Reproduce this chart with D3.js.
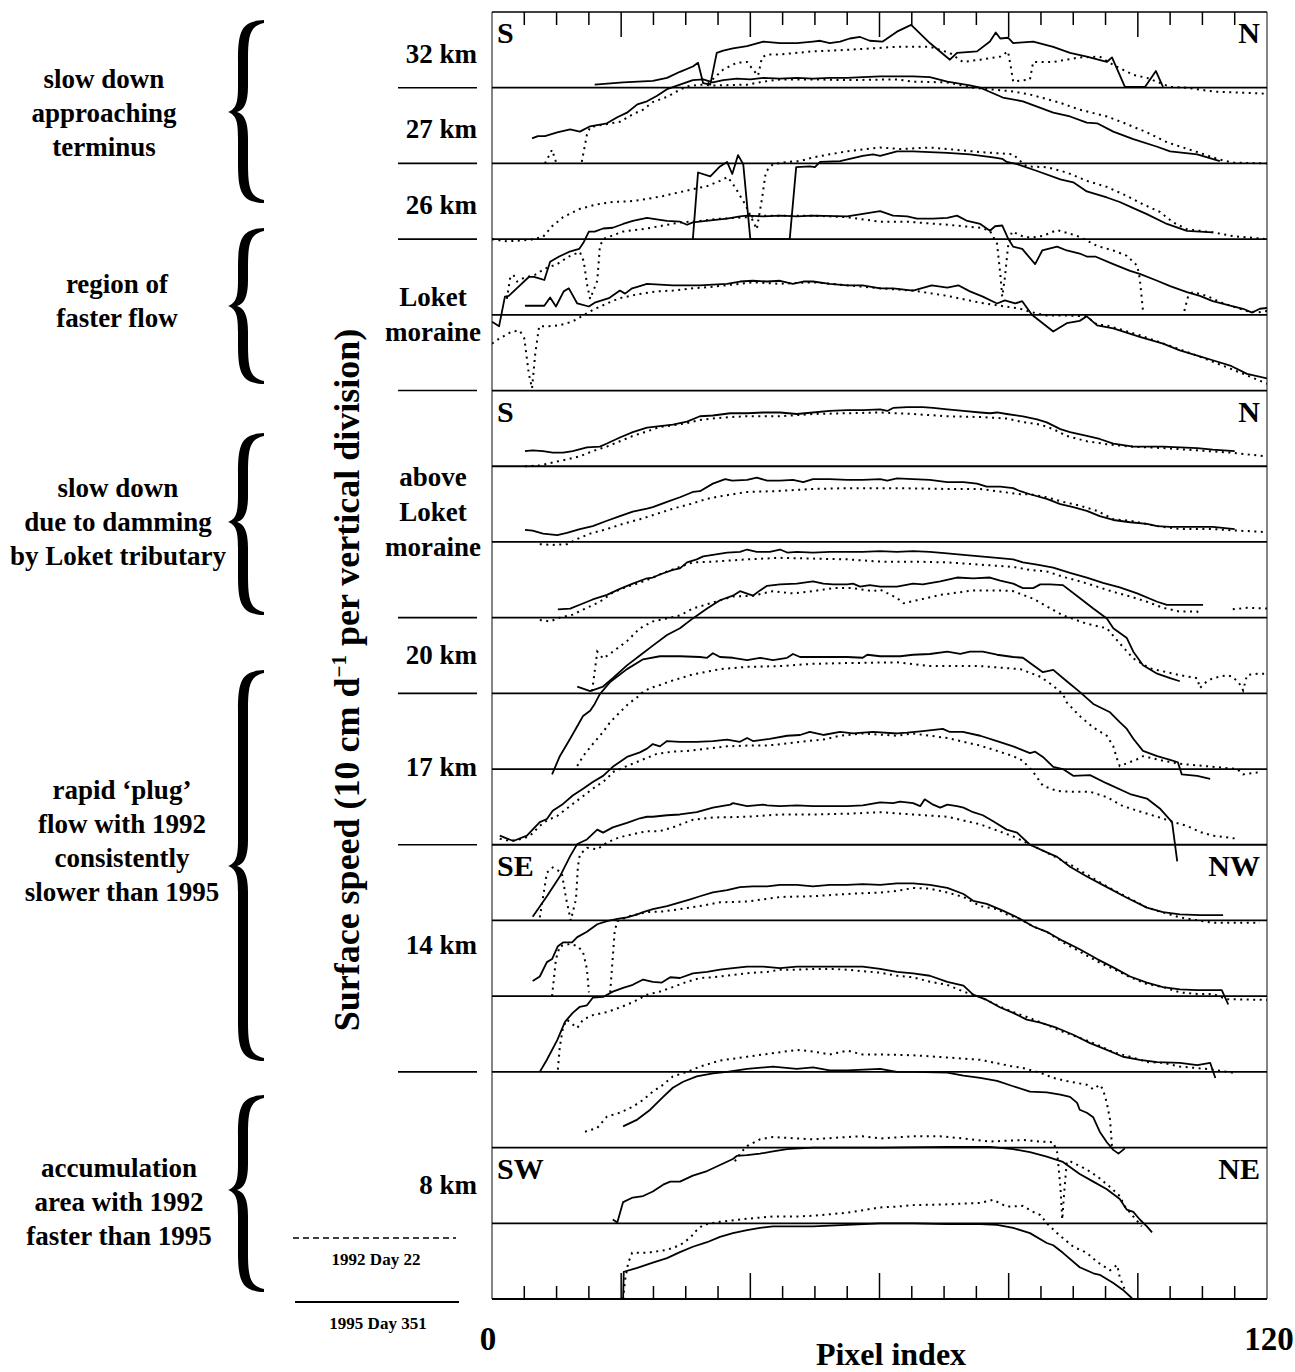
<!DOCTYPE html>
<html><head><meta charset="utf-8">
<script src="https://cdn.jsdelivr.net/npm/d3@7"></script>
<style>
body{margin:0;background:#fff}
text{font-family:"Liberation Serif","Times New Roman",serif;font-weight:bold;fill:#000}
</style>
</head><body>
<svg id="c" width="1295" height="1372"></svg>
<script>
// ---------- DATA : [pixel index, speed in vertical divisions (10 cm/d)] ----------
// 1995 Day 351 = solid, 1992 Day 22 = dotted
const s32=[[15.9,0.04],[20.3,0.07],[24.9,0.09],[27.1,0.13],[29.1,0.21],[31.1,0.28],[31.9,0.33],[32.7,0.06],[33.8,0.04],[34.8,0.46],[35.8,0.49],[37.3,0.52],[39.5,0.55],[42.0,0.61],[44.6,0.59],[47.2,0.59],[49.7,0.61],[50.8,0.62],[52.3,0.59],[53.9,0.61],[55.4,0.65],[57.0,0.67],[58.5,0.62],[60.5,0.61],[62.7,0.74],[64.9,0.83],[67.8,0.59],[70.9,0.37],[72.0,0.46],[75.1,0.48],[77.1,0.61],[78.0,0.73],[78.7,0.65],[79.9,0.66],[80.7,0.59],[83.8,0.61],[86.9,0.54],[89.5,0.46],[92.1,0.41],[95.2,0.34],[96.0,0.40],[98.0,0.01],[101.1,0.01],[102.8,0.22],[103.9,0.01]];
const d32=[[33.4,0.05],[35.8,0.24],[37.9,0.33],[39.5,0.34],[40.4,0.24],[41.2,0.16],[41.8,0.40],[42.6,0.44],[44.6,0.44],[49.7,0.48],[55.0,0.50],[62.7,0.54],[67.8,0.54],[70.9,0.46],[72.9,0.34],[75.6,0.37],[78.7,0.41],[79.9,0.48],[80.4,0.24],[80.7,0.08],[83.3,0.11],[83.8,0.34],[86.9,0.34],[91.0,0.40],[94.1,0.41],[96.2,0.30],[99.3,0.17],[101.4,0.13],[105.0,0.01],[107.6,0.0],[111.6,-0.05],[120,-0.08]];
const s27=[[6.2,0.33],[7.1,0.36],[8.2,0.36],[10.1,0.41],[12.1,0.45],[13.6,0.42],[15.2,0.49],[17.8,0.53],[19.4,0.61],[20.9,0.67],[22.5,0.78],[24.0,0.82],[25.5,0.89],[27.1,0.98],[29.1,1.04],[31.1,1.10],[32.7,1.11],[34.2,1.07],[35.8,1.10],[37.9,1.12],[40.0,1.11],[42.0,1.13],[44.6,1.12],[47.2,1.13],[49.7,1.12],[52.3,1.13],[55.0,1.13],[57.4,1.14],[60.1,1.15],[62.7,1.15],[65.2,1.15],[67.8,1.14],[70.5,1.08],[74.0,1.03],[75.6,1.00],[79.1,0.87],[82.2,0.82],[84.4,0.75],[86.9,0.67],[89.5,0.62],[92.1,0.54],[93.7,0.53],[96.2,0.42],[99.3,0.32],[103.0,0.22],[105.0,0.16],[109.2,0.12],[112.7,0.03]];
const d27=[[8.2,0.0],[9.3,0.18],[9.9,0.02],[10.2,null],[13.9,0.02],[14.7,0.38],[15.2,0.48],[17.8,0.52],[19.8,0.55],[21.8,0.65],[23.4,0.71],[24.9,0.81],[27.1,0.88],[28.6,0.95],[30.2,1.02],[32.2,1.04],[34.2,1.03],[39.5,1.04],[42.0,1.08],[44.6,1.11],[49.7,1.11],[55.0,1.10],[62.7,1.11],[65.2,1.08],[70.5,1.07],[74.5,1.00],[77.1,0.98],[80.7,0.95],[83.3,0.91],[88.0,0.80],[91.0,0.71],[95.2,0.62],[97.7,0.54],[101.4,0.41],[104.5,0.28],[109.2,0.15],[112.7,0.05],[114.7,0.01],[120,0.0]];
const s26=[[31.1,0.0],[31.9,0.88],[33.8,0.83],[35.3,0.96],[36.4,1.02],[37.2,0.86],[38.1,1.11],[38.9,0.99],[40.0,0.0],[46.1,0.0],[47.1,0.95],[49.2,0.96],[50.0,0.95],[50.8,1.02],[53.9,1.03],[57.4,1.10],[59.0,1.12],[60.1,1.10],[62.7,1.16],[65.2,1.16],[67.8,1.15],[70.5,1.14],[74.0,1.12],[77.6,1.08],[79.0,1.06],[79.7,1.02],[81.3,0.99],[84.4,0.90],[88.0,0.79],[90.0,0.75],[92.1,0.63],[95.2,0.55],[97.2,0.49],[99.3,0.41],[101.4,0.33],[104.5,0.20],[107.6,0.11],[111.6,0.09]];
const d26=[[0,0.0],[2.3,-0.03],[5.9,-0.01],[7.9,0.03],[9.3,0.17],[11.0,0.29],[13.6,0.40],[16.3,0.46],[18.7,0.49],[21.4,0.50],[24.0,0.53],[26.5,0.57],[29.1,0.62],[31.1,0.66],[33.3,0.70],[35.3,0.77],[36.5,0.82],[37.6,0.69],[39.2,0.46],[41.0,0.13],[41.8,0.53],[42.4,0.89],[43.5,0.99],[45.7,1.02],[47.7,1.03],[49.7,1.08],[52.3,1.12],[55.0,1.16],[60.1,1.21],[63.2,1.19],[67.8,1.21],[70.5,1.19],[75.6,1.15],[80.7,1.12],[82.2,1.00],[82.8,0.96],[85.9,0.95],[89.0,0.88],[92.1,0.77],[95.2,0.69],[98.3,0.57],[100.8,0.46],[103.4,0.36],[105.5,0.22],[107.6,0.13],[111.6,0.09],[114.7,0.04],[120,0.0]];
const sLoketA=[[0,-0.09],[1.1,-0.15],[2.0,0.24],[2.6,0.25],[4.2,0.38],[5.7,0.50],[6.5,0.50],[7.3,0.48],[8.1,0.46],[9.0,0.70],[10.4,0.77],[11.9,0.83],[13.5,0.87],[14.2,0.96],[15.0,1.10],[15.9,1.10],[17.2,1.14],[18.7,1.15],[20.3,1.20],[21.8,1.24],[24.0,1.28],[25.5,1.26],[27.1,1.24],[29.1,1.23],[30.2,1.19],[31.1,1.22],[34.2,1.25],[36.4,1.27],[38.4,1.30],[39.5,1.31],[42.0,1.30],[44.6,1.31],[47.2,1.30],[49.7,1.31],[55.0,1.30],[60.1,1.37],[62.1,1.31],[64.3,1.30],[65.8,1.27],[68.3,1.27],[70.5,1.28],[72.0,1.31],[73.6,1.24],[75.6,1.20],[77.1,1.11],[77.9,1.17],[79.0,1.18],[79.9,1.01],[80.7,0.90],[82.1,0.87],[84.1,0.67],[85.2,0.85],[87.5,0.90],[89.0,0.85],[91.0,0.81],[92.1,0.77],[93.4,0.77],[96.2,0.67],[98.8,0.58],[100.3,0.54],[103.0,0.45],[105.0,0.38],[107.6,0.30],[109.6,0.25],[111.6,0.18],[114.3,0.12],[116.3,0.08],[117.7,0.03],[118.9,0.08],[120,0.09]];
const dLoketA=[[2.3,0.21],[2.8,0.48],[3.3,0.53],[3.9,0.44],[5.0,0.49],[6.7,0.53],[8.2,0.61],[10.1,0.67],[11.9,0.77],[13.6,0.83],[14.2,0.71],[14.7,0.41],[15.2,0.21],[16.3,0.45],[16.7,0.90],[17.2,1.00],[20.3,1.10],[24.0,1.14],[26.5,1.18],[29.1,1.22],[32.2,1.24],[35.3,1.27],[39.5,1.29],[42.0,1.31],[44.6,1.31],[49.7,1.31],[55.0,1.29],[60.1,1.23],[64.3,1.23],[70.5,1.19],[75.6,1.15],[77.1,1.11],[78.2,0.94],[78.7,0.54],[79.0,0.24],[79.4,0.48],[79.9,0.90],[80.5,1.10],[82.1,1.04],[83.3,1.02],[85.2,1.04],[87.5,1.12],[89.5,1.07],[91.0,1.03],[93.7,0.91],[96.2,0.85],[98.3,0.78],[99.9,0.65],[100.3,0.48],[100.8,0.05],[101.2,null],[107.2,0.05],[107.8,0.25],[108.5,0.30],[110.7,0.25],[112.7,0.17],[114.7,0.11],[116.9,0.05],[118.5,0.03],[120,0.05]];
const sLoketB=[[5.1,1.12],[8.1,1.12],[9.0,1.23],[9.9,1.11],[11.1,1.31],[11.9,1.35],[13.2,1.15],[15.0,1.11],[15.9,1.16],[18.1,1.22],[19.8,1.32],[20.6,1.28],[21.7,1.35],[22.5,1.37],[24.0,1.41],[26.0,1.40],[28.0,1.39],[30.2,1.39],[32.2,1.39],[34.2,1.40],[36.4,1.41],[38.4,1.44],[40.4,1.45],[42.6,1.44],[44.6,1.45],[46.6,1.41],[48.2,1.44],[49.7,1.44],[52.3,1.41],[55.0,1.39],[57.4,1.39],[60.1,1.35],[62.1,1.35],[65.2,1.32],[68.1,1.39],[70.5,1.36],[72.2,1.39],[74.0,1.31],[76.0,1.24],[78.2,1.15],[79.4,1.19],[81.0,1.15],[82.1,1.18],[83.6,1.00],[86.9,0.78],[89.0,0.89],[91.0,0.92],[92.1,0.98],[93.7,0.86],[96.2,0.82],[100.3,0.71],[103.9,0.62],[106.5,0.53],[109.6,0.45],[111.6,0.40],[114.3,0.33],[116.9,0.22],[120,0.16]];
const dLoketB=[[0,0.62],[1.2,0.69],[3.1,0.78],[4.3,0.79],[5.0,0.69],[5.3,0.49],[5.7,0.22],[6.2,0.03],[6.7,0.49],[7.3,0.85],[8.8,0.85],[10.4,0.86],[12.4,0.91],[13.9,0.98],[15.5,1.06],[17.8,1.15],[19.8,1.22],[22.5,1.27],[25.5,1.31],[28.0,1.32],[31.1,1.35],[34.2,1.37],[37.3,1.40],[40.4,1.43],[44.6,1.41],[49.7,1.43],[55.0,1.39],[60.1,1.35],[65.2,1.32],[70.5,1.25],[75.6,1.16],[78.7,1.12],[81.8,1.08],[83.3,1.04],[85.9,0.99],[89.0,0.99],[92.1,0.98],[93.7,0.87],[95.2,0.86],[97.2,0.81],[100.3,0.73],[105.0,0.59],[109.2,0.46],[114.3,0.29],[116.9,0.20],[120,0.09]];
const sAbove1=[[5.1,0.20],[6.3,0.21],[7.9,0.20],[9.4,0.18],[11.0,0.18],[12.5,0.20],[14.7,0.25],[16.7,0.26],[17.8,0.30],[19.8,0.38],[21.8,0.45],[24.0,0.51],[26.0,0.53],[28.0,0.55],[30.2,0.59],[32.2,0.66],[34.2,0.67],[36.9,0.70],[39.5,0.70],[42.0,0.71],[44.6,0.71],[47.2,0.69],[49.7,0.71],[52.3,0.73],[55.0,0.74],[57.4,0.74],[60.1,0.75],[61.2,0.73],[62.1,0.77],[64.3,0.78],[66.7,0.78],[68.3,0.77],[70.5,0.75],[73.0,0.73],[75.6,0.71],[77.1,0.70],[78.2,0.71],[79.7,0.69],[82.2,0.66],[84.4,0.62],[85.9,0.58],[88.0,0.49],[89.5,0.45],[92.1,0.40],[94.1,0.36],[96.2,0.30],[99.3,0.26],[101.4,0.26],[103.9,0.26],[106.5,0.25],[109.2,0.24],[111.6,0.22],[115.0,0.20]];
const dAbove1=[[5.1,0.0],[7.4,0.01],[9.4,0.05],[11.6,0.09],[13.6,0.13],[15.6,0.20],[17.8,0.26],[19.8,0.33],[21.8,0.40],[24.0,0.46],[26.0,0.52],[28.0,0.54],[30.2,0.57],[32.2,0.61],[34.2,0.63],[36.9,0.65],[39.5,0.66],[44.6,0.66],[49.7,0.69],[55.0,0.70],[60.1,0.71],[65.2,0.69],[70.5,0.66],[75.6,0.65],[79.7,0.63],[81.8,0.59],[84.9,0.55],[86.9,0.49],[89.0,0.40],[92.1,0.33],[95.2,0.29],[98.8,0.26],[103.9,0.24],[109.2,0.21],[114.3,0.18],[120,0.13]];
const sAbove2=[[5.1,0.16],[6.3,0.15],[7.9,0.11],[10.1,0.09],[11.6,0.12],[13.6,0.17],[15.6,0.21],[17.8,0.28],[19.8,0.34],[21.8,0.40],[24.0,0.44],[24.9,0.46],[27.1,0.53],[29.1,0.59],[31.1,0.66],[32.2,0.67],[34.2,0.77],[36.1,0.83],[37.2,0.81],[39.5,0.82],[41.0,0.85],[42.6,0.81],[44.6,0.81],[46.6,0.82],[48.2,0.79],[49.7,0.83],[52.3,0.83],[55.0,0.82],[57.4,0.82],[60.1,0.83],[61.2,0.81],[62.7,0.84],[65.2,0.83],[67.8,0.82],[70.5,0.79],[73.0,0.79],[75.1,0.77],[76.6,0.73],[78.7,0.73],[80.7,0.71],[81.8,0.67],[83.3,0.63],[85.9,0.57],[88.0,0.50],[90.0,0.46],[92.1,0.41],[94.1,0.34],[96.2,0.29],[98.8,0.26],[101.4,0.24],[103.0,0.21],[105.0,0.20],[109.2,0.20],[111.6,0.20],[115.0,0.17]];
const dAbove2=[[7.4,-0.03],[9.4,-0.04],[11.6,-0.03],[13.2,0.04],[15.2,0.11],[17.8,0.17],[20.3,0.24],[22.9,0.30],[25.5,0.37],[28.0,0.44],[30.7,0.50],[33.3,0.57],[35.8,0.61],[39.5,0.66],[43.5,0.67],[49.7,0.70],[55.0,0.71],[62.7,0.71],[70.5,0.70],[75.6,0.70],[78.2,0.67],[81.8,0.63],[83.3,0.63],[85.9,0.59],[88.4,0.53],[91.0,0.48],[93.7,0.41],[96.2,0.30],[98.8,0.28],[103.0,0.21],[106.5,0.17],[111.6,0.17],[115.4,0.15],[120,0.13]];
const sAbove3=[[10.2,0.11],[12.1,0.12],[13.6,0.17],[15.6,0.24],[17.8,0.30],[19.8,0.38],[21.8,0.45],[24.0,0.52],[24.9,0.53],[26.0,0.57],[28.0,0.63],[29.1,0.65],[30.2,0.73],[31.7,0.77],[32.7,0.81],[34.2,0.83],[36.4,0.86],[38.4,0.87],[39.5,0.90],[41.0,0.87],[43.0,0.87],[44.6,0.90],[45.7,0.86],[47.2,0.87],[49.7,0.86],[52.3,0.87],[55.0,0.87],[57.4,0.87],[60.1,0.88],[62.7,0.87],[65.2,0.88],[67.8,0.87],[70.5,0.85],[73.0,0.83],[75.6,0.81],[78.2,0.79],[80.7,0.77],[82.2,0.73],[84.4,0.70],[86.9,0.66],[89.5,0.59],[92.1,0.53],[94.6,0.46],[97.2,0.40],[99.9,0.32],[103.0,0.21],[104.5,0.17],[106.5,0.17],[110.1,0.17]];
const dAbove3=[[7.4,-0.03],[9.0,-0.05],[10.5,0.0],[12.5,0.04],[14.7,0.13],[16.7,0.21],[18.7,0.33],[20.9,0.41],[22.9,0.46],[24.9,0.53],[27.1,0.61],[29.1,0.67],[31.1,0.73],[34.2,0.74],[39.5,0.77],[44.6,0.79],[49.7,0.78],[55.0,0.77],[60.1,0.74],[65.2,0.74],[70.5,0.73],[75.6,0.70],[80.7,0.67],[83.3,0.63],[85.9,0.61],[88.4,0.54],[91.0,0.48],[93.7,0.41],[96.2,0.34],[98.8,0.28],[101.4,0.21],[103.9,0.13],[106.5,0.08],[109.2,0.08],[109.6,0.04],[110.5,null],[114.7,0.11],[116.9,0.13],[120,0.12]];
const s20=[[13.2,0.09],[15.2,0.03],[17.2,0.09],[18.7,0.20],[20.9,0.37],[22.9,0.50],[24.9,0.63],[27.1,0.77],[29.1,0.86],[31.1,0.99],[33.3,1.12],[35.3,1.23],[37.3,1.29],[38.4,1.35],[40.4,1.29],[41.5,1.36],[42.6,1.42],[44.6,1.44],[47.2,1.45],[49.7,1.48],[51.3,1.45],[52.8,1.44],[55.0,1.44],[55.9,1.45],[57.0,1.41],[58.5,1.43],[60.1,1.41],[62.7,1.41],[65.2,1.45],[66.7,1.44],[69.4,1.48],[72.0,1.53],[74.5,1.52],[77.1,1.53],[78.7,1.49],[80.7,1.45],[82.2,1.39],[83.8,1.39],[84.9,1.44],[86.4,1.44],[88.4,1.43],[91.0,1.26],[93.1,1.12],[95.2,0.99],[96.2,0.86],[98.3,0.73],[99.3,0.55],[100.8,0.37],[103.0,0.26],[105.0,0.20],[106.5,0.16]];
const d20=[[15.5,0.03],[16.3,0.55],[17.2,0.46],[18.7,0.55],[20.9,0.69],[22.9,0.86],[24.9,0.95],[27.1,0.99],[29.1,1.03],[31.1,1.12],[34.2,1.20],[37.3,1.28],[40.4,1.29],[43.5,1.35],[46.6,1.32],[49.7,1.35],[52.8,1.39],[55.9,1.39],[59.0,1.35],[60.1,1.37],[62.7,1.26],[63.7,1.19],[65.8,1.23],[69.4,1.30],[74.5,1.36],[78.7,1.36],[80.7,1.35],[83.8,1.25],[88.4,1.03],[92.1,0.92],[95.2,0.86],[97.2,0.66],[99.3,0.46],[101.9,0.33],[106.5,0.24],[109.2,0.20],[109.6,0.07],[110.7,0.16],[111.6,0.20],[113.8,0.24],[114.7,0.22],[115.9,0.11],[116.3,0.04],[116.9,0.24],[118.5,0.26],[120,0.26]];
const s18=[[9.3,-0.07],[10.5,0.17],[12.1,0.40],[14.1,0.70],[15.2,0.77],[15.9,0.86],[16.7,0.99],[18.3,1.15],[20.9,1.32],[23.4,1.45],[26.0,1.49],[29.1,1.49],[32.2,1.48],[33.3,1.47],[34.2,1.53],[35.3,1.48],[37.3,1.47],[39.5,1.44],[41.5,1.47],[43.5,1.44],[45.7,1.47],[46.6,1.52],[47.7,1.48],[49.7,1.48],[55.0,1.48],[57.4,1.47],[58.1,1.51],[60.1,1.49],[63.2,1.49],[65.2,1.51],[67.8,1.52],[70.5,1.55],[72.5,1.52],[74.0,1.55],[76.0,1.55],[78.2,1.51],[80.7,1.48],[82.2,1.47],[83.8,1.37],[85.3,1.28],[86.9,1.31],[89.0,1.16],[91.0,1.02],[93.1,0.86],[95.7,0.75],[97.2,0.62],[98.3,0.53],[99.3,0.40],[100.8,0.24],[103.0,0.17],[105.0,0.12],[106.2,0.09],[106.8,-0.07],[109.2,-0.09],[111.2,-0.13]];
const d18=[[13.2,0.04],[14.1,0.17],[15.6,0.33],[17.2,0.49],[18.3,0.62],[19.8,0.75],[21.1,0.86],[22.5,0.95],[23.4,1.02],[24.5,1.07],[26.0,1.11],[27.6,1.16],[31.1,1.25],[35.3,1.32],[39.5,1.35],[44.6,1.36],[49.7,1.39],[55.0,1.40],[62.7,1.41],[67.8,1.36],[75.6,1.36],[81.8,1.32],[84.9,1.22],[86.9,1.10],[88.4,0.99],[89.0,0.88],[91.0,0.70],[93.1,0.55],[95.2,0.44],[96.2,0.30],[96.8,0.13],[97.2,0.04],[99.9,0.13],[100.8,0.17],[103.9,0.11],[106.5,0.07],[111.6,0.03],[115.4,0.0],[116.3,-0.07],[118.9,-0.04]];
const s17=[[1.2,0.12],[3.3,0.05],[5.4,0.12],[7.4,0.30],[8.5,0.34],[9.4,0.45],[11.0,0.54],[12.5,0.65],[14.1,0.74],[15.6,0.83],[17.2,0.91],[18.7,1.03],[20.9,1.16],[22.9,1.22],[24.0,1.27],[24.9,1.33],[26.0,1.30],[27.1,1.37],[29.1,1.36],[31.7,1.36],[34.2,1.37],[36.4,1.39],[38.4,1.36],[39.5,1.41],[40.4,1.37],[43.0,1.40],[45.7,1.44],[47.7,1.45],[49.2,1.49],[51.3,1.45],[53.9,1.49],[55.9,1.47],[59.0,1.49],[62.7,1.47],[64.3,1.48],[66.7,1.50],[69.8,1.53],[70.9,1.49],[72.9,1.49],[75.6,1.44],[78.2,1.37],[80.7,1.30],[83.3,1.21],[84.1,1.23],[85.3,1.16],[86.9,1.03],[88.4,1.00],[90.0,0.91],[92.6,0.92],[95.2,0.81],[98.8,0.67],[101.4,0.61],[103.4,0.48],[105.3,0.30],[106.1,-0.22]];
const d17=[[1.2,0.08],[2.8,0.05],[4.8,0.08],[5.9,0.12],[7.4,0.25],[8.5,0.32],[10.1,0.38],[11.6,0.48],[13.6,0.61],[15.6,0.74],[17.8,0.87],[18.7,0.96],[20.9,1.04],[22.9,1.11],[25.5,1.20],[28.0,1.23],[30.2,1.24],[33.3,1.27],[36.4,1.30],[39.5,1.31],[42.6,1.31],[45.7,1.34],[48.8,1.37],[51.3,1.39],[53.9,1.44],[57.4,1.47],[62.7,1.44],[65.2,1.47],[67.8,1.44],[70.5,1.41],[73.0,1.36],[75.6,1.31],[78.2,1.24],[80.7,1.17],[82.2,1.11],[83.8,0.96],[85.3,0.78],[87.5,0.71],[90.0,0.70],[92.6,0.70],[95.2,0.63],[97.7,0.51],[100.3,0.44],[103.0,0.37],[105.5,0.30],[107.6,0.25],[109.6,0.17],[111.6,0.12],[115.4,0.08]];
const sSE1=[[6.3,0.05],[8.5,0.32],[10.5,0.58],[12.1,0.85],[13.2,1.01],[14.7,1.07],[16.3,1.20],[17.2,1.16],[18.7,1.23],[20.9,1.29],[22.9,1.35],[24.0,1.37],[24.9,1.37],[27.1,1.39],[29.1,1.40],[31.7,1.43],[34.2,1.49],[36.9,1.53],[37.3,1.55],[39.5,1.51],[42.0,1.53],[42.6,1.52],[44.6,1.51],[47.2,1.52],[49.7,1.51],[52.3,1.51],[55.0,1.51],[57.4,1.52],[60.1,1.56],[62.1,1.55],[63.2,1.57],[65.2,1.55],[66.3,1.51],[67.0,1.60],[68.3,1.53],[69.4,1.49],[70.5,1.53],[72.0,1.51],[73.0,1.49],[74.5,1.43],[76.0,1.39],[77.6,1.31],[79.7,1.20],[81.3,1.16],[83.3,1.00],[85.9,0.90],[87.5,0.84],[89.5,0.71],[92.1,0.58],[95.2,0.44],[98.3,0.30],[101.4,0.17],[103.9,0.11],[106.5,0.08],[109.6,0.07],[113.2,0.07]];
const dSE1=[[7.4,0.04],[8.5,0.63],[9.4,0.70],[10.8,0.63],[11.5,0.28],[12.2,0.0],[13.0,0.28],[13.3,0.71],[13.6,0.87],[14.7,0.96],[16.3,0.94],[17.8,1.03],[19.8,1.10],[21.8,1.14],[24.0,1.18],[26.0,1.18],[28.0,1.23],[31.1,1.33],[34.2,1.36],[39.5,1.37],[44.6,1.40],[49.7,1.40],[55.0,1.41],[60.1,1.43],[65.2,1.40],[70.5,1.37],[75.6,1.27],[80.7,1.11],[84.9,0.94],[89.5,0.74],[95.2,0.45],[101.4,0.17],[106.5,0.04],[111.6,-0.03],[118.9,-0.03]];
const s14=[[6.3,0.20],[7.4,0.26],[8.5,0.45],[9.3,0.49],[10.2,0.66],[11.0,0.71],[12.4,0.71],[13.2,0.78],[14.7,0.85],[16.3,0.95],[17.8,0.99],[19.4,1.02],[20.9,1.04],[22.5,1.08],[23.4,1.11],[24.9,1.15],[27.1,1.19],[29.1,1.24],[30.7,1.28],[32.2,1.32],[34.2,1.37],[36.4,1.40],[38.4,1.44],[40.4,1.45],[42.6,1.45],[44.6,1.47],[47.2,1.47],[49.7,1.45],[52.3,1.47],[55.0,1.47],[57.4,1.48],[60.1,1.47],[62.7,1.49],[65.2,1.49],[67.8,1.47],[70.5,1.43],[73.0,1.35],[74.5,1.26],[76.6,1.22],[79.1,1.13],[81.8,1.02],[83.8,0.92],[85.9,0.85],[88.4,0.73],[91.0,0.62],[93.7,0.49],[96.2,0.38],[98.8,0.26],[101.4,0.18],[103.9,0.12],[106.5,0.09],[109.2,0.08],[113.0,0.08],[114.0,-0.11]];
const d14=[[9.3,0.0],[9.9,0.49],[10.5,0.66],[12.1,0.69],[13.3,0.66],[14.1,0.58],[14.7,0.36],[15.0,0.05],[16.0,null],[18.3,0.05],[18.6,0.40],[19.0,0.86],[19.4,0.99],[21.4,1.06],[24.0,1.11],[26.5,1.12],[29.1,1.15],[32.2,1.19],[35.3,1.24],[39.5,1.25],[44.6,1.31],[49.7,1.32],[55.0,1.35],[60.1,1.37],[62.7,1.39],[65.2,1.43],[67.8,1.42],[70.5,1.37],[73.0,1.31],[75.6,1.19],[78.2,1.15],[79.7,1.08],[81.8,1.02],[83.8,0.92],[85.9,0.85],[88.4,0.71],[91.0,0.59],[93.7,0.46],[96.2,0.36],[98.8,0.25],[101.4,0.16],[103.9,0.12],[106.5,0.05],[109.2,0.03],[111.6,0.03],[113.8,-0.04],[120,-0.05]];
const sSE4=[[7.4,0.0],[8.5,0.16],[10.1,0.42],[11.3,0.66],[12.5,0.78],[13.6,0.86],[14.7,0.88],[15.6,0.98],[17.2,0.99],[18.7,1.06],[20.3,1.11],[21.8,1.15],[23.4,1.22],[24.9,1.19],[26.3,1.18],[27.6,1.25],[29.1,1.24],[31.1,1.30],[33.3,1.32],[35.3,1.35],[37.3,1.37],[39.5,1.39],[42.0,1.39],[44.6,1.37],[47.2,1.39],[49.7,1.39],[52.3,1.39],[55.0,1.39],[57.4,1.39],[60.1,1.36],[62.7,1.32],[65.2,1.30],[67.8,1.27],[70.5,1.19],[73.0,1.14],[74.5,1.02],[76.6,0.95],[78.7,0.85],[80.7,0.78],[82.8,0.69],[84.9,0.65],[87.5,0.58],[90.0,0.49],[92.6,0.38],[95.2,0.29],[97.7,0.20],[100.3,0.16],[103.0,0.13],[106.5,0.12],[109.2,0.09],[111.2,0.12],[112.0,-0.08]];
const dSE4=[[10.2,0.03],[10.5,0.33],[11.0,0.59],[11.6,0.69],[13.2,0.58],[14.1,0.69],[15.6,0.75],[17.8,0.79],[19.8,0.85],[21.8,0.92],[24.0,1.02],[26.0,1.06],[28.0,1.12],[30.2,1.19],[32.2,1.24],[34.2,1.25],[37.3,1.28],[40.4,1.31],[42.6,1.32],[44.6,1.35],[47.2,1.35],[49.7,1.36],[52.3,1.36],[55.0,1.35],[57.4,1.33],[60.1,1.31],[62.7,1.27],[65.2,1.25],[67.8,1.19],[70.5,1.15],[73.0,1.06],[75.6,0.99],[78.2,0.88],[80.7,0.79],[83.3,0.71],[85.9,0.62],[88.4,0.53],[91.0,0.45],[93.7,0.36],[96.2,0.26],[98.8,0.20],[101.4,0.13],[103.9,0.12],[106.5,0.07],[109.2,0.05],[111.6,0.03],[114.7,-0.01]];
const sSW1=[[20.3,0.28],[22.5,0.37],[24.5,0.50],[26.5,0.67],[28.0,0.79],[29.6,0.87],[31.7,0.94],[34.2,0.98],[36.4,1.00],[39.5,1.04],[43.5,1.07],[47.2,1.04],[49.7,1.06],[52.3,1.02],[55.0,1.02],[60.1,1.04],[62.7,1.00],[65.2,1.00],[70.5,0.99],[73.0,0.95],[75.6,0.92],[78.2,0.88],[80.7,0.81],[83.3,0.74],[85.9,0.73],[88.0,0.70],[89.5,0.67],[90.6,0.59],[91.0,0.50],[92.1,0.46],[93.1,0.40],[94.1,0.21],[95.2,0.07],[96.2,-0.03],[97.0,-0.08],[98.0,-0.01]];
const dSW1=[[14.4,0.21],[16.3,0.26],[17.8,0.41],[19.8,0.46],[21.8,0.54],[23.4,0.63],[24.9,0.74],[26.5,0.83],[28.0,0.94],[30.2,1.00],[32.2,1.07],[35.3,1.15],[39.5,1.20],[44.6,1.26],[47.2,1.29],[49.7,1.27],[52.3,1.23],[55.0,1.28],[57.4,1.23],[60.1,1.23],[65.2,1.22],[70.5,1.19],[75.6,1.16],[80.7,1.07],[81.8,1.06],[84.9,0.99],[86.9,0.92],[89.5,0.87],[92.1,0.83],[93.1,0.77],[94.1,0.83],[94.6,0.77],[95.2,0.59],[95.7,0.37],[96.0,0.01]];
const s8=[[18.7,0.05],[19.4,0.01],[20.3,0.28],[21.8,0.34],[23.4,0.36],[24.9,0.42],[26.5,0.51],[27.6,0.55],[29.1,0.55],[31.1,0.63],[33.3,0.69],[35.3,0.77],[37.3,0.85],[37.9,0.89],[39.5,0.90],[41.5,0.92],[43.5,0.95],[45.7,0.98],[47.7,0.99],[49.7,1.00],[55.0,1.00],[60.1,1.00],[70.5,1.01],[77.1,1.01],[80.7,0.98],[83.3,0.94],[85.9,0.88],[88.4,0.81],[91.0,0.65],[93.1,0.55],[95.2,0.45],[97.2,0.32],[98.3,0.18],[99.3,0.15],[100.3,0.05],[101.4,-0.04],[102.2,-0.12]];
const d8=[[37.6,0.82],[38.7,0.95],[39.5,1.02],[41.5,1.11],[43.5,1.14],[47.2,1.12],[49.7,1.11],[55.0,1.14],[57.4,1.15],[60.1,1.12],[65.2,1.15],[69.4,1.15],[73.0,1.12],[77.1,1.08],[82.2,1.10],[84.9,1.08],[86.9,1.07],[87.5,0.94],[88.0,0.49],[88.3,0.05],[88.6,0.41],[89.0,0.81],[89.5,0.82],[92.1,0.71],[93.7,0.62],[95.7,0.48],[97.2,0.36],[98.0,0.22],[100.6,-0.04]];
const sSW3=[[20.3,0.0],[20.4,0.36],[22.5,0.41],[24.9,0.48],[27.1,0.54],[29.1,0.62],[31.1,0.69],[33.3,0.75],[35.3,0.82],[37.3,0.87],[39.5,0.91],[41.5,0.94],[43.5,0.96],[47.2,0.96],[49.7,0.96],[55.0,0.98],[60.1,1.00],[65.2,1.00],[70.5,0.99],[75.6,0.99],[78.2,0.98],[80.7,0.94],[83.3,0.87],[85.9,0.74],[86.9,0.71],[88.4,0.61],[91.0,0.42],[93.1,0.34],[94.1,0.32],[96.2,0.21],[97.7,0.12],[99.1,0.01]];
const dSW3=[[20.3,0.0],[20.6,0.25],[21.1,0.48],[21.7,0.61],[24.0,0.61],[27.1,0.65],[29.1,0.71],[30.7,0.81],[31.7,0.91],[32.7,0.98],[35.3,1.02],[39.5,1.06],[43.5,1.09],[47.2,1.09],[49.7,1.10],[55.0,1.14],[60.1,1.21],[62.7,1.22],[65.2,1.24],[70.5,1.25],[75.6,1.27],[77.6,1.31],[79.7,1.22],[82.2,1.23],[83.8,1.15],[84.9,1.11],[85.9,1.00],[87.5,0.87],[90.0,0.69],[92.1,0.61],[93.7,0.49],[95.7,0.38],[96.8,0.45],[97.2,0.29],[98.0,0.12]];

// baseline division (0 = top edge, 17 = bottom edge) of each profile, top to bottom
const baselineDivision=[1,2,3,4,5,6,7,8,9,10,11,12,13,14,15,16,17];
const solid1995=[s32,s27,s26,sLoketA,sLoketB,sAbove1,sAbove2,sAbove3,s20,s18,s17,sSE1,s14,sSE4,sSW1,s8,sSW3];
const dotted1992=[d32,d27,d26,dLoketA,dLoketB,dAbove1,dAbove2,dAbove3,d20,d18,d17,dSE1,d14,dSE4,dSW1,d8,dSW3];

const tickValues=d3.range(5,120,5);
const longTicks=[20,40,60,80,100];
const xEndLabels=[0,120];
const kmLabels=[
  {t:["32 km"],at:0.55},{t:["27 km"],at:1.55},{t:["26 km"],at:2.55},
  {t:["Loket","moraine"],at:4.0},{t:["above","Loket","moraine"],at:6.6},
  {t:["20 km"],at:8.49},{t:["17 km"],at:9.97},{t:["14 km"],at:12.32},{t:["8 km"],at:15.5}];
const kmRules=[1,2,3,5,8,9,11,14];
const dirLabels=[{l:"S",r:"N",at:0},{l:"S",r:"N",at:5},{l:"SE",r:"NW",at:11},{l:"SW",r:"NE",at:15}];
const groups=[
  {t:["slow down","approaching","terminus"],cx:104,top:20,bot:203,mid:112,tc:113},
  {t:["region of","faster flow"],cx:117,top:228,bot:384,mid:306,tc:301},
  {t:["slow down","due to damming","by Loket tributary"],cx:118,top:433,bot:615,mid:522,tc:522},
  {t:["rapid \u2018plug\u2019","flow with 1992","consistently","slower than 1995"],cx:122,top:670,bot:1061,mid:866,tc:841},
  {t:["accumulation","area with 1992","faster than 1995"],cx:119,top:1095,bot:1292,mid:1190,tc:1202}];

// ---------- DRAW ----------
const svg=d3.select('#c');
const x=d3.scaleLinear().domain([0,120]).range([492,1267]);
const y=d3.scaleLinear().domain([0,17]).range([12,1299]);

svg.append('defs').append('clipPath').attr('id','plot').append('rect')
  .attr('x',x(0)).attr('y',y(0)-1).attr('width',x(120)-x(0)).attr('height',y(17)-y(0)+2);

// frame
svg.append('line').attr('x1',x(0)).attr('x2',x(0)).attr('y1',y(0)).attr('y2',y(17)).attr('stroke','#333').attr('stroke-width',1.2);
svg.append('line').attr('x1',x(120)).attr('x2',x(120)).attr('y1',y(0)).attr('y2',y(17)).attr('stroke','#333').attr('stroke-width',1.2);
svg.append('line').attr('x1',x(0)).attr('x2',x(120)).attr('y1',y(0)).attr('y2',y(0)).attr('stroke','#000').attr('stroke-width',1.4);
svg.append('line').attr('x1',x(0)).attr('x2',x(120)).attr('y1',y(17)).attr('y2',y(17)).attr('stroke','#000').attr('stroke-width',2);
// division lines
svg.append('g').selectAll('line').data(d3.range(1,17)).join('line')
  .attr('x1',x(0)).attr('x2',x(120)).attr('y1',d=>y(d)).attr('y2',d=>y(d))
  .attr('stroke','#000').attr('stroke-width',1.8);
// ticks
const tk=svg.append('g').attr('stroke','#000').attr('stroke-width',1.5);
tk.selectAll('.t').data(tickValues).join('line')
  .attr('x1',d=>x(d)).attr('x2',d=>x(d)).attr('y1',y(0)).attr('y2',d=>y(0)+(longTicks.includes(d)?25:13));
tk.selectAll('.b').data(tickValues).join('line')
  .attr('x1',d=>x(d)).attr('x2',d=>x(d)).attr('y1',y(17)).attr('y2',d=>y(17)-(longTicks.includes(d)?26:13));

// profiles
const plot=svg.append('g').attr('clip-path','url(#plot)');
baselineDivision.forEach((b,i)=>{
  const line=d3.line().defined(d=>d[1]!==null).x(d=>x(d[0])).y(d=>y(b-d[1]));
  plot.append('path').attr('d',line(dotted1992[i])).attr('fill','none')
    .attr('stroke','#000').attr('stroke-width',2).attr('stroke-dasharray','2,4.5');
  plot.append('path').attr('d',line(solid1995[i])).attr('fill','none')
    .attr('stroke','#000').attr('stroke-width',1.8).attr('stroke-linejoin','round');
});

// direction labels
dirLabels.forEach(d=>{
  svg.append('text').attr('x',x(0)+5).attr('y',y(d.at)+31).attr('font-size',30).text(d.l);
  svg.append('text').attr('x',x(120)-7).attr('y',y(d.at)+31).attr('font-size',30).attr('text-anchor','end').text(d.r);
});

// x end labels
svg.selectAll('.xl').data(xEndLabels).join('text')
  .attr('x',d=>x(d)+(d===0?-4:2)).attr('y',1350).attr('font-size',33).attr('text-anchor','middle').text(d=>d);
svg.append('text').attr('x',891).attr('y',1365).attr('font-size',32).attr('text-anchor','middle').text('Pixel index');

// km labels and rules
kmLabels.forEach(k=>{
  const n=k.t.length;
  k.t.forEach((s,j)=>{
    const multi=n>1;
    svg.append('text').attr('x',multi?433:477).attr('text-anchor',multi?'middle':'end')
      .attr('y',y(k.at)+9+(j-(n-1)/2)*35).attr('font-size',27).text(s);
  });
});
svg.append('g').selectAll('line').data(kmRules).join('line')
  .attr('x1',398).attr('x2',477).attr('y1',d=>y(d)).attr('y2',d=>y(d)).attr('stroke','#000').attr('stroke-width',1.6);

// y label
const yl=svg.append('text').attr('transform','translate(359,680) rotate(-90)').attr('text-anchor','middle').attr('font-size',36);
yl.append('tspan').text('Surface speed (10 cm d');
yl.append('tspan').attr('dy',-13).attr('font-size',21).text('\u22121');
yl.append('tspan').attr('dy',13).text(' per vertical division)');

// braces and group labels
function brace(y0,y1,ym){
  const xt=228,xs=243,xe=264,t=10,L=xs-t/2,R=xs+t/2;
  return `M${xe},${y0} C${L+4},${y0+1} ${L},${y0+10} ${L},${y0+40} L${L},${ym-26}
   C${L},${ym-9} ${xt+8},${ym-3} ${xt},${ym} C${xt+8},${ym+3} ${L},${ym+9} ${L},${ym+26}
   L${L},${y1-40} C${L},${y1-10} ${L+4},${y1-1} ${xe},${y1} L${xe},${y1-3}
   C${R+2},${y1-6} ${R},${y1-15} ${R},${y1-40} L${R},${ym+26}
   C${R},${ym+9} ${R-4},${ym+2} ${xt+9},${ym} C${R-4},${ym-2} ${R},${ym-9} ${R},${ym-26}
   L${R},${y0+40} C${R},${y0+15} ${R+2},${y0+6} ${xe},${y0+3} Z`;
}
groups.forEach(g=>{
  svg.append('path').attr('d',brace(g.top,g.bot,g.mid)).attr('fill','#000');
  const n=g.t.length;
  g.t.forEach((s,j)=>{
    svg.append('text').attr('x',g.cx).attr('text-anchor','middle').attr('font-size',27)
      .attr('y',g.tc+9+(j-(n-1)/2)*34).text(s);
  });
});

// legend
svg.append('line').attr('x1',293).attr('x2',456).attr('y1',1238).attr('y2',1238).attr('stroke','#000').attr('stroke-width',1.5).attr('stroke-dasharray','6,4');
svg.append('text').attr('x',376).attr('y',1265).attr('text-anchor','middle').attr('font-size',17).text('1992 Day 22');
svg.append('line').attr('x1',295).attr('x2',459).attr('y1',1302).attr('y2',1302).attr('stroke','#000').attr('stroke-width',1.8);
svg.append('text').attr('x',378).attr('y',1329).attr('text-anchor','middle').attr('font-size',17).text('1995 Day 351');
</script>
</body></html>
